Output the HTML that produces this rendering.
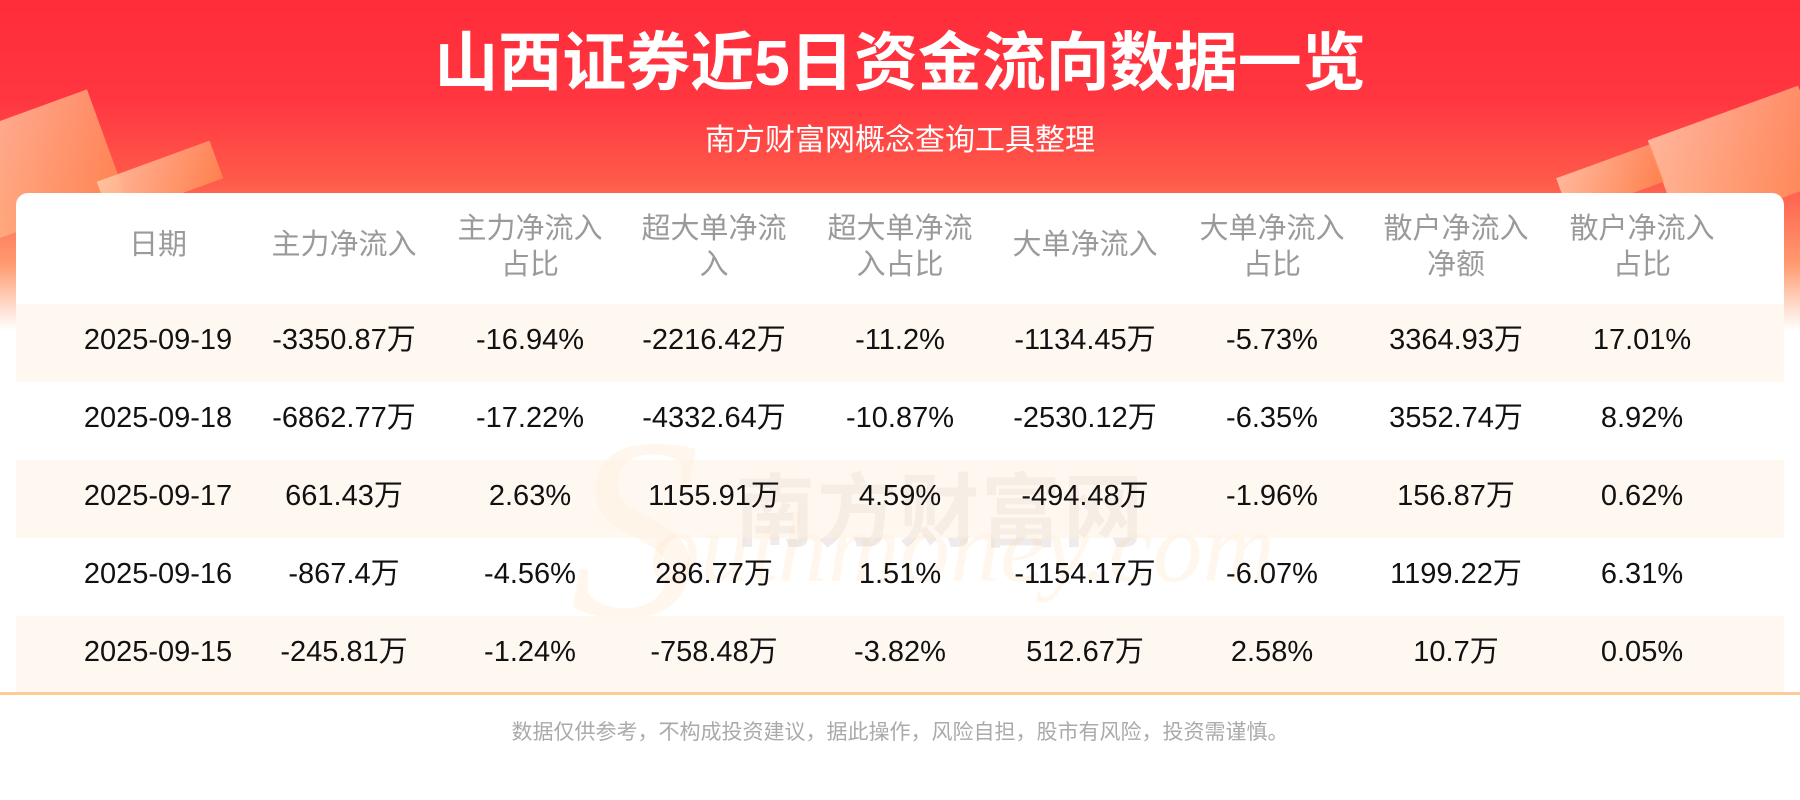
<!DOCTYPE html>
<html><head><meta charset="utf-8"><style>
*{margin:0;padding:0;box-sizing:border-box}
body{width:1800px;height:800px;overflow:hidden;position:relative;background:#fff;font-family:"Liberation Sans","Noto Sans CJK SC",sans-serif}
.bg{position:absolute;left:0;top:0;width:1800px;height:330px;background:linear-gradient(180deg,#ff2c3a 0%,#ff3640 30%,#ff5a4a 55%,#ff9a70 80%,#fff 100%)}
.deco{position:absolute;background:linear-gradient(135deg,#ffd0b0,#ff8a50);opacity:.8;transform:rotate(-20deg)}
.title{position:absolute;top:24px;left:0;width:1800px;text-align:center;color:#fff;font-size:64px;font-weight:bold;line-height:78px}
.sub{position:absolute;top:121px;left:0;width:1800px;text-align:center;color:#fff;font-size:30px;line-height:40px}
.card{position:absolute;left:16px;top:193px;width:1768px;height:501px;background:#fff;border-radius:12px 12px 0 0}
.row{position:absolute;left:0;width:1768px;height:78px}
.shade{background:#fff8f1}
.c{position:absolute;width:186px;text-align:center;transform:translateX(-50%);white-space:nowrap}
.h .c{color:#9a9a9a;font-size:29px;line-height:36px}
.d .c{color:#111;font-size:29px;line-height:78px;top:-3px}
.line{position:absolute;left:0;top:692px;width:1800px;height:3px;background:#ffcc99}
.foot{position:absolute;top:716px;left:0;width:1800px;text-align:center;color:#aaa;font-size:21px}
.wm{position:absolute;left:735px;top:448px;font-size:80px;font-weight:bold;color:rgba(120,100,90,.13);letter-spacing:2px}
.wm2{position:absolute;left:650px;top:490px;font-size:100px;font-style:italic;font-family:"Liberation Serif",serif;color:rgba(255,200,140,.15)}
.S{position:absolute;left:570px;top:380px;font-size:260px;font-style:italic;font-family:"Liberation Serif",serif;color:rgba(255,190,120,.13)}
</style></head><body>
<div class="bg"></div>
<div class="deco" style="left:-30px;top:110px;width:140px;height:110px"></div>
<div class="deco" style="left:100px;top:160px;width:120px;height:40px"></div>
<div class="deco" style="left:1660px;top:110px;width:160px;height:100px"></div>
<div class="deco" style="left:1560px;top:160px;width:100px;height:40px"></div>
<div class="title">山西证券近5日资金流向数据一览</div>
<div class="sub">南方财富网概念查询工具整理</div>
<div class="card">
<div class="row h" style="top:0;height:111px">
<div class="c" style="left:142px;top:34px">日期</div>
<div class="c" style="left:328px;top:34px">主力净流入</div>
<div class="c" style="left:514px;top:18px">主力净流入<br>占比</div>
<div class="c" style="left:698px;top:18px">超大单净流<br>入</div>
<div class="c" style="left:884px;top:18px">超大单净流<br>入占比</div>
<div class="c" style="left:1069px;top:34px">大单净流入</div>
<div class="c" style="left:1256px;top:18px">大单净流入<br>占比</div>
<div class="c" style="left:1440px;top:18px">散户净流入<br>净额</div>
<div class="c" style="left:1626px;top:18px">散户净流入<br>占比</div>
</div>
</div>
<div class="S">S</div>
<div class="wm">南方财富网</div>
<div class="wm2">outhmoney.com</div>
<div class="card" style="background:transparent">
<div class="row d shade" style="top:111px"><div class="c" style="left:142px">2025-09-19</div><div class="c" style="left:328px">-3350.87万</div><div class="c" style="left:514px">-16.94%</div><div class="c" style="left:698px">-2216.42万</div><div class="c" style="left:884px">-11.2%</div><div class="c" style="left:1069px">-1134.45万</div><div class="c" style="left:1256px">-5.73%</div><div class="c" style="left:1440px">3364.93万</div><div class="c" style="left:1626px">17.01%</div></div>
<div class="row d" style="top:189px"><div class="c" style="left:142px">2025-09-18</div><div class="c" style="left:328px">-6862.77万</div><div class="c" style="left:514px">-17.22%</div><div class="c" style="left:698px">-4332.64万</div><div class="c" style="left:884px">-10.87%</div><div class="c" style="left:1069px">-2530.12万</div><div class="c" style="left:1256px">-6.35%</div><div class="c" style="left:1440px">3552.74万</div><div class="c" style="left:1626px">8.92%</div></div>
<div class="row d shade" style="top:267px;background:rgba(255,240,225,.45)"><div class="c" style="left:142px">2025-09-17</div><div class="c" style="left:328px">661.43万</div><div class="c" style="left:514px">2.63%</div><div class="c" style="left:698px">1155.91万</div><div class="c" style="left:884px">4.59%</div><div class="c" style="left:1069px">-494.48万</div><div class="c" style="left:1256px">-1.96%</div><div class="c" style="left:1440px">156.87万</div><div class="c" style="left:1626px">0.62%</div></div>
<div class="row d" style="top:345px"><div class="c" style="left:142px">2025-09-16</div><div class="c" style="left:328px">-867.4万</div><div class="c" style="left:514px">-4.56%</div><div class="c" style="left:698px">286.77万</div><div class="c" style="left:884px">1.51%</div><div class="c" style="left:1069px">-1154.17万</div><div class="c" style="left:1256px">-6.07%</div><div class="c" style="left:1440px">1199.22万</div><div class="c" style="left:1626px">6.31%</div></div>
<div class="row d shade" style="top:423px"><div class="c" style="left:142px">2025-09-15</div><div class="c" style="left:328px">-245.81万</div><div class="c" style="left:514px">-1.24%</div><div class="c" style="left:698px">-758.48万</div><div class="c" style="left:884px">-3.82%</div><div class="c" style="left:1069px">512.67万</div><div class="c" style="left:1256px">2.58%</div><div class="c" style="left:1440px">10.7万</div><div class="c" style="left:1626px">0.05%</div></div>
</div>
<div class="line"></div>
<div class="foot">数据仅供参考，不构成投资建议，据此操作，风险自担，股市有风险，投资需谨慎。</div>
</body></html>
